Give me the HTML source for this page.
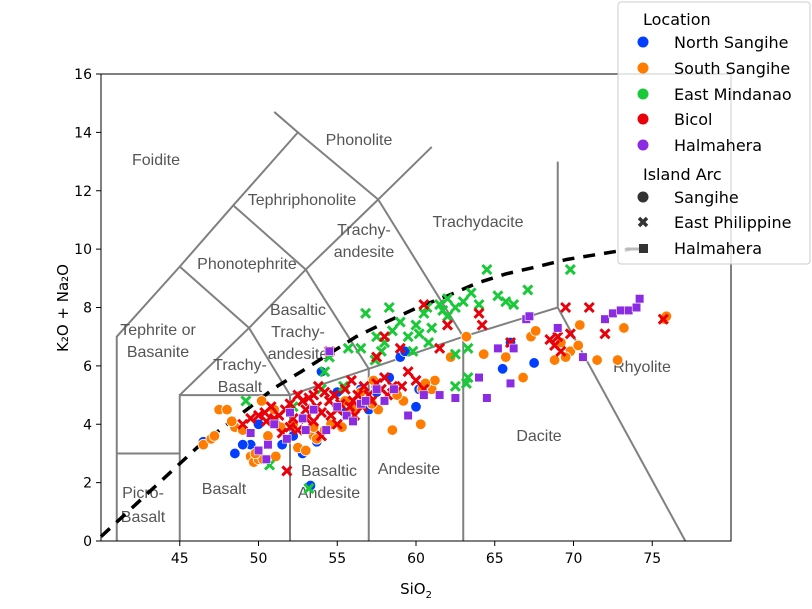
<!DOCTYPE html>
<html><head><meta charset="utf-8">
<style>
body{margin:0;background:#fff;}
svg{display:block;font-family:"DejaVu Sans","Liberation Sans",sans-serif;}
</style></head>
<body>
<svg id="chart" width="812" height="609" viewBox="0 0 812 609"></svg>
<script>
const xTicks=[45,50,55,60,65,70,75];
const yTicks=[0,2,4,6,8,10,12,14,16];
const northSangihe=[[46.5,3.4],[48.5,3.0],[49.5,3.3],[51,4.1],[50,4.0],[52.2,3.6],[52.8,3.0],[53.3,1.9],[53.7,3.4],[55,5.1],[54,5.8],[56.5,5.2],[57.5,5.1],[58.3,5.6],[59,6.3],[59.3,6.5],[60.2,5.2],[61,5.2],[60,4.6],[65.5,5.9],[66,6.8],[67.5,6.1],[55.5,4.4],[57,4.5],[51.5,3.3],[49,3.3]];
const southSangihe=[[46.5,3.3],[47,3.5],[47.2,3.6],[47.5,4.5],[48,4.5],[48.5,3.9],[49,3.8],[49.5,2.9],[49.7,2.7],[50,2.8],[50.3,2.8],[49.8,3.0],[50.6,3.6],[51,4.5],[51.4,3.9],[52.5,3.2],[53,3.1],[53.5,3.6],[53.5,3.9],[54.2,3.8],[55.3,3.9],[56.5,5.1],[57.6,4.5],[58.5,3.8],[60.3,4.0],[61,5.2],[62.2,6.3],[63.2,7.0],[64.3,6.4],[65.7,6.3],[66.8,5.6],[67.3,7.0],[67.6,7.2],[68.8,6.2],[69.2,6.8],[69.8,6.5],[70.3,6.7],[70.4,7.4],[71.5,6.2],[72.8,6.2],[73.2,7.3],[75.8,7.6],[75.9,7.7],[52.2,4.0],[48.3,4.1],[51.1,2.9],[56,4.5],[59.2,4.8],[60.4,5.2],[50.2,4.8],[54.6,4.0],[53.7,3.5],[55.5,4.8],[57.2,4.7],[58.8,5.0],[57.3,5.5],[61.2,5.5],[60.6,5.4],[69.5,6.3]];
const eastMindanao=[[54.0,5.2],[54.2,5.8],[54.5,6.3],[56.5,6.6],[57.5,7.0],[58,6.8],[58.5,7.2],[59,7.5],[59.5,7.0],[60,7.4],[60.2,7.1],[60.5,7.8],[61,7.3],[61.5,8.1],[62,8.3],[62.5,8.0],[63,8.2],[63.5,8.5],[64,8.1],[64.5,9.3],[65.2,8.4],[65.7,8.2],[66.2,8.1],[67.1,8.6],[69.8,9.3],[62,7.7],[60.8,6.8],[62.5,6.4],[63.3,6.6],[62.5,5.3],[63.2,5.4],[63.3,5.6],[56.8,7.8],[58.3,8.0],[59.8,6.5],[57.4,6.2],[57.8,6.5],[55.4,5.3],[49.2,4.8],[50.7,2.6],[52.2,4.6],[53.2,1.8],[55.7,6.6],[60.7,8.0],[61.7,7.9]];
const bicol=[[54.5,6.5],[57.5,6.3],[58,7.0],[59,6.6],[60.5,8.1],[61.5,6.6],[62,7.4],[64.2,7.4],[64,7.8],[66,6.8],[68.5,6.9],[69,7.0],[69.5,8.0],[71,8.0],[72,7.1],[75.7,7.6],[69.2,6.5],[69.8,7.1],[68.8,6.7],[49,4.0],[49.5,4.2],[50,4.3],[50.5,4.1],[51,4.2],[51.3,4.3],[51.7,4.5],[52,4.7],[52.2,4.2],[52.5,5.0],[52.8,4.8],[53,4.5],[53.2,4.9],[53.5,5.0],[53.7,4.6],[54,4.4],[54.2,5.1],[54.5,4.8],[54.8,5.0],[55,4.5],[55.2,4.7],[55.5,5.2],[55.8,4.6],[56,4.8],[56.3,5.0],[56.6,4.6],[57,5.0],[57.5,5.4],[57.8,5.2],[58.2,5.0],[58.5,5.3],[52.5,3.8],[53.5,4.1],[54,3.6],[51.8,2.4],[50.4,4.4],[51.5,3.7],[55,4.0],[56.1,4.3],[58,5.6],[59.5,5.8],[60,5.5],[60.5,5.2],[53,4.2],[52,3.9],[55.9,5.5],[57.2,4.8],[54.6,4.3],[50.8,4.6],[53.8,5.3],[56.7,5.3],[59.1,5.3]];
const halmahera=[[49.5,3.7],[50,3.1],[50.6,3.3],[50.5,2.8],[51,4.0],[52,4.4],[52.8,4.2],[53.5,4.5],[54.5,6.5],[55,4.6],[55.6,4.3],[56.5,4.7],[57.5,5.2],[58,4.8],[58.6,5.2],[59.5,4.3],[60.5,5.0],[61.5,5.0],[62.5,4.9],[64.5,4.9],[64,5.6],[66,5.4],[65.2,6.6],[66.2,6.6],[67,7.6],[67.2,7.7],[69,7.3],[70.6,6.3],[72,7.6],[72.5,7.8],[73,7.9],[73.5,7.9],[74,8.0],[74.2,8.3],[51.8,3.5],[53,3.8],[56,4.1],[54.3,3.8],[56.8,4.8]];
const dividerLine=[[40,0.15],[46.1,3.2],[47.7,3.87],[49.4,4.56],[51,5.24],[52.7,5.8],[56.2,7.0],[58.1,7.5],[60.1,8.0],[62,8.4],[63.9,8.84],[65.7,9.15],[67.7,9.4],[69.6,9.65],[73.6,10.0]];

const L=101,R=731,T=74,B=541,xmin=40,xmax=80,ymin=0,ymax=16;
const sx=v=>L+(v-xmin)/(xmax-xmin)*(R-L);
const sy=v=>B-(v-ymin)/(ymax-ymin)*(B-T);
const NS='http://www.w3.org/2000/svg';
const svg=document.getElementById('chart');
function mk(tag,attrs,parent){const e=document.createElementNS(NS,tag);for(const k in attrs)e.setAttribute(k,attrs[k]);(parent||svg).appendChild(e);return e;}

const fieldLines=[
[[41,0],[41,7],[45,9.4],[48.4,11.5],[52.5,14],[51,14.7]],
[[41,3],[45,3]],[[45,0],[45,5],[52,5],[57,5.9],[63,7],[69,8],[69,13]],
[[52,0],[52,5]],[[57,0],[57,5.9]],[[63,0],[63,7]],[[69,8],[77.1,0]],
[[45,5],[49.4,7.3],[53,9.3],[57.6,11.7],[61,13.5]],
[[52,5],[49.4,7.3],[45,9.4]],[[57,5.9],[53,9.3],[48.4,11.5]],
[[63,7],[57.6,11.7],[52.5,14]]];
const gF=mk('g',{});


fieldLines.forEach(pts=>{
  const p=mk('polyline',{points:pts.map(q=>sx(q[0])+','+sy(q[1])).join(' '),fill:'none',stroke:'#808080','stroke-width':2},gF);
  
  
});
const fieldLabels=[
['Foidite',156,160],['Phonolite',359,140],['Tephriphonolite',302,200],['Phonotephrite',247,264],
['Trachydacite',478,222],['Trachy-',364,230],['andesite',364,252],['Basaltic',298,310],['Trachy-',298,332],['andesite',298,354],
['Tephrite or',158,330],['Basanite',158,352],['Trachy-',240,365],['Basalt',240,387],['Rhyolite',642,367],['Dacite',539,436],
['Andesite',409,469],['Basaltic',329,471],['Andesite',329,493],['Basalt',224,489],['Picro-',143,493],['Basalt',143,517]];
fieldLabels.forEach(f=>{
  const t=mk('text',{x:f[1],y:f[2]+5,'text-anchor':'middle','font-size':16,fill:'#555','font-family':'Liberation Sans, sans-serif'});
  t.textContent=f[0];
  
  
});
const dl=mk('polyline',{points:dividerLine.map(q=>sx(q[0])+','+sy(q[1])).join(' '),fill:'none',stroke:'#000','stroke-width':3.5,'stroke-dasharray':'12,9'});



function circ(g,x,y,c){return mk('circle',{cx:sx(x),cy:sy(y),r:5.3,fill:c,stroke:'#fff','stroke-width':0.8},g);}
function cross(g,x,y,c){const X=sx(x),Y=sy(y),a=4.5;return mk('path',{d:`M${X-a},${Y-a}L${X+a},${Y+a}M${X-a},${Y+a}L${X+a},${Y-a}`,stroke:c,'stroke-width':3,fill:'none'},g);}
function sq(g,x,y,c){return mk('rect',{x:sx(x)-4.3,y:sy(y)-4.3,width:8.6,height:8.6,fill:c,stroke:'#fff','stroke-width':0.6},g);}
const series=[[northSangihe,'#023eff',circ,'north-sangihe'],[southSangihe,'#ff7c00',circ,'south-sangihe'],[eastMindanao,'#1ac938',cross,'east-mindanao'],[bicol,'#e8000b',cross,'bicol'],[halmahera,'#8b2be2',sq,'halmahera']];
series.forEach(s=>{
  const g=mk('g',{});
  
  
  s[0].forEach(p=>{const m=s[2](g,p[0],p[1],s[1]);
    
    });
});
const fr=mk('rect',{x:L,y:T,width:R-L,height:B-T,fill:'none',stroke:'#000','stroke-width':1});


xTicks.forEach(v=>{
  mk('line',{x1:sx(v),x2:sx(v),y1:B,y2:B+5,stroke:'#000'});
  const t=mk('text',{x:sx(v),y:B+22,'text-anchor':'middle','font-size':14});t.textContent=v;
  
  
});
yTicks.forEach(v=>{
  mk('line',{x1:L-5,x2:L,y1:sy(v),y2:sy(v),stroke:'#000'});
  const t=mk('text',{x:L-9,y:sy(v)+5,'text-anchor':'end','font-size':14});t.textContent=v;
  
  
});
</script>
<svg width="812" height="609" style="position:absolute;left:0;top:0">
<text x="416" y="594" text-anchor="middle" font-size="15" font-family="DejaVu Sans, sans-serif">SiO<tspan font-size="10" dy="4">2</tspan></text>
<text transform="translate(68,308) rotate(-90)" text-anchor="middle" font-size="15" font-family="DejaVu Sans, sans-serif">K₂O + Na₂O</text>
<g font-family="DejaVu Sans, sans-serif" font-size="16">
<rect x="618" y="2" width="192" height="262" rx="3" fill="#fff" fill-opacity="0.8" stroke="#ccc"/>
<text x="643" y="25">Location</text>
<circle cx="643" cy="42" r="5.5" fill="#023eff"/><text x="674" y="48">North Sangihe</text>
<circle cx="643" cy="68" r="5.5" fill="#ff7c00"/><text x="674" y="74">South Sangihe</text>
<circle cx="643" cy="94" r="5.5" fill="#1ac938"/><text x="674" y="100">East Mindanao</text>
<circle cx="643" cy="119" r="5.5" fill="#e8000b"/><text x="674" y="125">Bicol</text>
<circle cx="643" cy="145" r="5.5" fill="#8b2be2"/><text x="674" y="151">Halmahera</text>
<text x="643" y="180">Island Arc</text>
<circle cx="643" cy="197" r="5.5" fill="#333"/><text x="674" y="203">Sangihe</text>
<path d="M639,218L647,226M639,226L647,218" stroke="#333" stroke-width="3.5"/><text x="674" y="228">East Philippine</text>
<line x1="626" y1="249" x2="640" y2="249" stroke="#bbb" stroke-width="3"/><rect x="639" y="244" width="9" height="9" fill="#333"/><text x="674" y="254">Halmahera</text>
</g>
</svg>
</body></html>
